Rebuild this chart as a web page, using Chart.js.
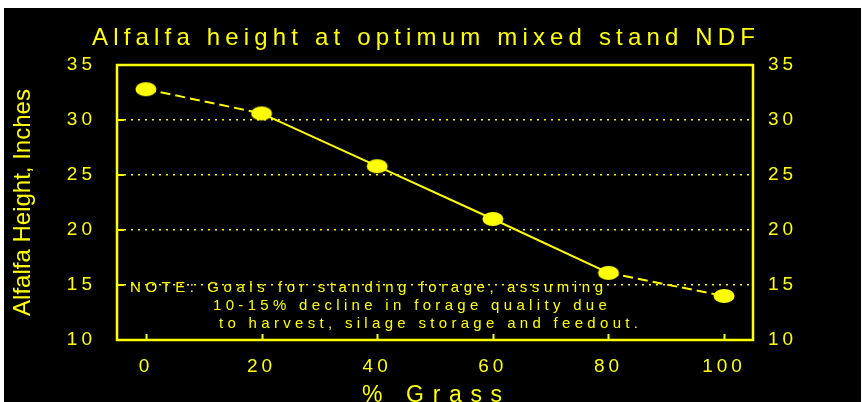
<!DOCTYPE html>
<html>
<head>
<meta charset="utf-8">
<script src="https://cdn.jsdelivr.net/npm/chart.js@4"></script>
<style>
  html, body { margin: 0; padding: 0; background: #fff; overflow: hidden; width: 862px; height: 402px; }
  #wrap { position: absolute; left: 4px; top: 8px; width: 857px; height: 394px; background: #000; overflow: hidden; }
  canvas { display: block; }
</style>
</head>
<body>
<div id="wrap"><canvas id="c" width="857" height="414" style="width:857px;height:414px"></canvas></div>
<script>
// Alfalfa height at optimum mixed-stand NDF, by percent grass in the stand
const grassPct = [0, 20, 40, 60, 80, 100];
const alfalfaHeight = [32.8, 30.6, 25.8, 21.0, 16.1, 14.0];
const xTicks = [0, 20, 40, 60, 80, 100];
const yTicks = [10, 15, 20, 25, 30, 35];
// segments (by starting point index) drawn as dashed extrapolations
const dashedSegments = [0, 4];

const chartTitle = 'Alfalfa height at optimum mixed stand NDF';
const yTitle = 'Alfalfa Height, Inches';
const xTitle = '% Grass';
const noteLines = [
  'NOTE: Goals for standing forage, assuming',
  '10-15% decline in forage quality due',
  'to harvest, silage storage and feedout.'
];

const YELLOW = '#ffff00';
const FONT = 'Arial, "Liberation Sans", sans-serif';

// oval marker
const oval = document.createElement('canvas');
oval.width = 24; oval.height = 16;
const oc = oval.getContext('2d');
oc.fillStyle = YELLOW;
oc.beginPath();
oc.ellipse(12, 8, 10.5, 7, 0, 0, Math.PI * 2);
oc.fill();

// wide-tracked tick labels
const spacedTicks = {
  id: 'spacedTicks',
  beforeDraw(chart) { chart.ctx.letterSpacing = '4px'; },
  afterDraw(chart) { chart.ctx.letterSpacing = '0px'; }
};

// plot frame plus inward tick marks
const frame = {
  id: 'frame',
  beforeDatasetsDraw(chart) {
    const { ctx, chartArea: a, scales } = chart;
    ctx.save();
    ctx.letterSpacing = '0px';
    ctx.strokeStyle = YELLOW;
    ctx.lineWidth = 2.5;
    ctx.strokeRect(a.left, a.top, a.right - a.left, a.bottom - a.top);
    ctx.lineWidth = 2;
    ctx.beginPath();
    xTicks.forEach(v => {
      const px = Math.round(scales.x.getPixelForValue(v)) + 0.5;
      ctx.moveTo(px, a.bottom);
      ctx.lineTo(px, a.bottom - 6);
    });
    yTicks.forEach(v => {
      const py = Math.round(scales.y.getPixelForValue(v));
      ctx.moveTo(a.left, py);
      ctx.lineTo(a.left + 7, py);
    });
    ctx.stroke();
    ctx.restore();
  }
};

function fillSpaced(ctx, text, x0, x1, y, font) {
  ctx.font = font;
  ctx.letterSpacing = '0px';
  const w = ctx.measureText(text).width;
  const sp = (x1 - x0 - w) / (text.length - 1);
  ctx.letterSpacing = sp.toFixed(2) + 'px';
  ctx.textAlign = 'left';
  ctx.fillText(text, x0, y);
  ctx.letterSpacing = '0px';
}

// titles and the note
const texts = {
  id: 'texts',
  afterDraw(chart) {
    const ctx = chart.ctx;
    ctx.save();
    ctx.fillStyle = YELLOW;
    ctx.textBaseline = 'alphabetic';
    fillSpaced(ctx, chartTitle, 88, 751, 37, '24px ' + FONT);
    fillSpaced(ctx, xTitle, 358, 498, 394, '23px ' + FONT);
    fillSpaced(ctx, noteLines[0], 126, 599, 284, '15px ' + FONT);
    fillSpaced(ctx, noteLines[1], 209, 603, 302, '15px ' + FONT);
    fillSpaced(ctx, noteLines[2], 215, 634, 320, '15px ' + FONT);

    ctx.translate(19, 194.5);
    ctx.rotate(-Math.PI / 2);
    ctx.font = '24px ' + FONT;
    ctx.textAlign = 'center';
    ctx.textBaseline = 'middle';
    ctx.letterSpacing = '0px';
    ctx.fillText(yTitle, 0, 0);
    ctx.restore();
  }
};

const tickFont = { family: FONT, size: 19 };

new Chart(document.getElementById('c'), {
  type: 'line',
  data: {
    datasets: [{
      data: grassPct.map((x, i) => ({ x, y: alfalfaHeight[i] })),
      borderColor: YELLOW,
      borderWidth: 2,
      pointStyle: oval,
      pointRadius: 10,
      pointBackgroundColor: YELLOW,
      tension: 0,
      segment: {
        borderDash: c => dashedSegments.includes(c.p0DataIndex) ? [10, 5] : undefined
      }
    }]
  },
  options: {
    responsive: false,
    animation: false,
    layout: { padding: { top: 57, left: 0, right: 0, bottom: 0 } },
    plugins: { legend: { display: false }, tooltip: { enabled: false }, title: { display: false } },
    scales: {
      x: {
        type: 'linear',
        min: -5, max: 105,
        afterBuildTicks: s => { s.ticks = xTicks.map(v => ({ value: v })); },
        afterFit: s => { s.height = 82; },
        ticks: { color: YELLOW, font: tickFont, padding: 15, maxRotation: 0, autoSkip: false },
        grid: { display: false, drawTicks: false },
        border: { display: false }
      },
      y: {
        position: 'left',
        min: 10, max: 35,
        afterBuildTicks: s => { s.ticks = yTicks.map(v => ({ value: v })); },
        afterFit: s => { s.width = 113; },
        ticks: { color: YELLOW, font: tickFont, padding: 21 },
        grid: {
          drawTicks: false,
          lineWidth: 1.5,
          color: c => (c.tick && c.tick.value > 10 && c.tick.value < 35) ? YELLOW : 'rgba(0,0,0,0)'
        },
        border: { display: false, dash: [2, 5] }
      },
      y2: {
        position: 'right',
        min: 10, max: 35,
        afterBuildTicks: s => { s.ticks = yTicks.map(v => ({ value: v })); },
        afterFit: s => { s.width = 108; },
        ticks: { color: YELLOW, font: tickFont, padding: 15 },
        grid: { display: false, drawTicks: false },
        border: { display: false }
      }
    }
  },
  plugins: [spacedTicks, frame, texts]
});
</script>
</body>
</html>
